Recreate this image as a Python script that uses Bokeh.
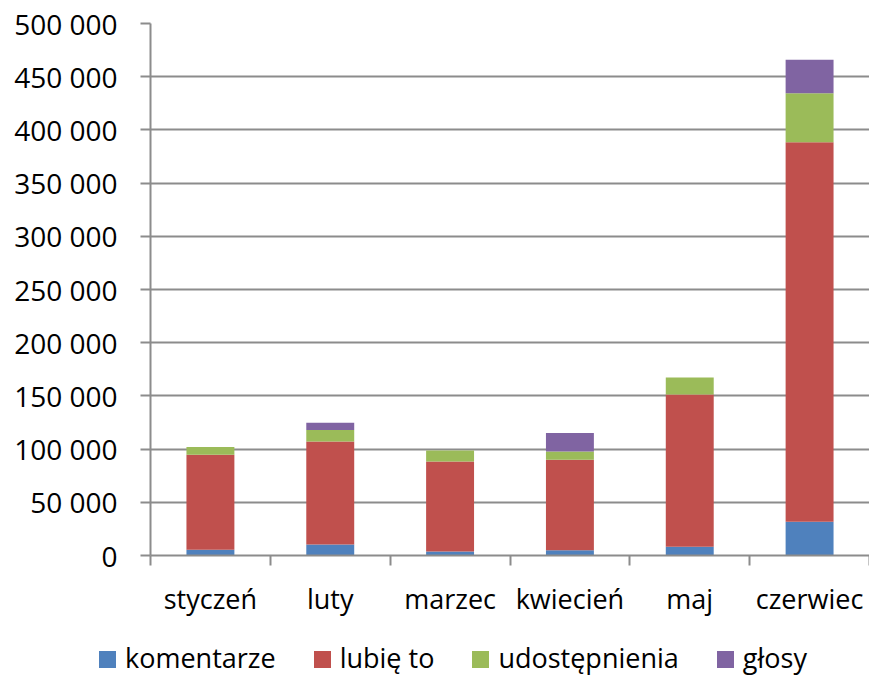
from bokeh.plotting import figure
from bokeh.layouts import column
from bokeh.models import (Range1d, LinearAxis, FixedTicker, ColumnDataSource, Div)
from bokeh.embed import file_html
from bokeh.resources import INLINE

months = ["styczeń", "luty", "marzec", "kwiecień", "maj", "czerwiec"]
komentarze = [5300, 10400, 3800, 5000, 8300, 31800]
lubie_to = [89400, 96800, 84600, 84900, 143000, 356600]
udostepnienia = [7300, 10700, 10300, 7800, 15900, 46100]
glosy = [0, 6900, 0, 17400, 0, 31500]

series_names = ["komentarze", "lubię to", "udostępnienia", "głosy"]
series_keys = ["kom", "lub", "udo", "glo"]
colors = ["#4F81BD", "#C0504D", "#9BBB59", "#8064A2"]

y_ticks = [0, 50000, 100000, 150000, 200000, 250000, 300000, 350000, 400000, 450000, 500000]
y_labels = ["0", "50 000", "100 000", "150 000", "200 000", "250 000", "300 000",
            "350 000", "400 000", "450 000", "500 000"]

FONT = "Open Sans"
FS = "27px"
GRID = "#8C8C8C"

# category slots: each month occupies one unit, centred at i + 0.5
centers = [i + 0.5 for i in range(len(months))]
edges = list(range(len(months) + 1))

source = ColumnDataSource(dict(x=centers, month=months, kom=komentarze, lub=lubie_to,
                               udo=udostepnienia, glo=glosy))

p = figure(x_range=Range1d(0, len(months)), y_range=Range1d(0, 500000),
           width=869, height=620, output_backend="svg", toolbar_location=None,
           x_axis_location=None, y_axis_location=None,
           min_border_left=150, min_border_right=0, min_border_top=23, min_border_bottom=65)
p.outline_line_color = None
p.background_fill_color = "white"
p.border_fill_color = "white"

renderers = p.vbar_stack(series_keys, x="x", width=0.4, color=colors,
                         line_color=None, source=source)

# y axis
yaxis = LinearAxis(ticker=FixedTicker(ticks=y_ticks))
yaxis.major_label_overrides = {t: l for t, l in zip(y_ticks, y_labels)}
yaxis.major_label_text_font = FONT
yaxis.major_label_text_font_size = "28px"
yaxis.major_label_text_color = "black"
yaxis.major_label_standoff = 23
yaxis.major_tick_out = 10
yaxis.major_tick_in = 0
yaxis.minor_tick_line_color = None
yaxis.axis_line_color = GRID
yaxis.axis_line_width = 2
yaxis.major_tick_line_color = GRID
yaxis.major_tick_line_width = 2
p.add_layout(yaxis, "left")

p.ygrid.ticker = FixedTicker(ticks=y_ticks)
p.ygrid.grid_line_color = GRID
p.ygrid.grid_line_width = 2
p.xgrid.grid_line_color = None

# category axis: labels at slot centres, tick marks (minor) at slot boundaries
xaxis = LinearAxis(ticker=FixedTicker(ticks=centers, minor_ticks=edges))
xaxis.major_label_overrides = {c: m for c, m in zip(centers, months)}
xaxis.axis_line_color = GRID
xaxis.axis_line_width = 2
xaxis.major_tick_line_color = None
xaxis.major_tick_out = 0
xaxis.major_tick_in = 0
xaxis.minor_tick_line_color = GRID
xaxis.minor_tick_line_width = 2
xaxis.minor_tick_out = 10
xaxis.minor_tick_in = 0
xaxis.major_label_text_font = FONT
xaxis.major_label_text_font_size = FS
xaxis.major_label_text_color = "black"
xaxis.major_label_standoff = 14
p.add_layout(xaxis, "below")

# legend strip below the chart (series names + colours)
items_html = "".join(
    f'<span style="display:inline-block;width:17px;height:17px;background:{c};'
    f'margin-right:9px;"></span><span style="margin-right:38px;">{n}</span>'
    for n, c in zip(series_names, colors)
)
legend_html = (
    f'<div style="font-family:\'{FONT}\';font-size:{FS};line-height:37px;color:black;'
    f'padding-top:19px;padding-left:99px;white-space:nowrap;">{items_html}</div>'
)
legend_div = Div(text=legend_html, width=869, height=55, margin=0)

layout = column(p, legend_div, spacing=0)
open("out.html", "w").write(file_html(layout, INLINE))
